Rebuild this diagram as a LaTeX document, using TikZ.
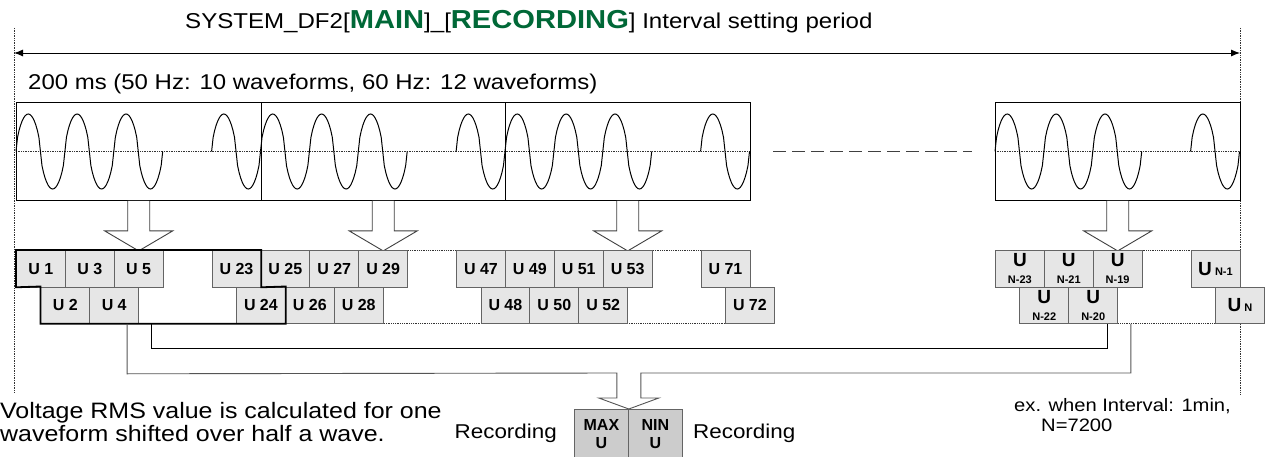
\documentclass[tikz,border=0pt]{standalone}
\usepackage{fontspec}
\setmainfont{Liberation Sans}
\setsansfont{Liberation Sans}
\newfontfamily\widefont{Liberation Sans}[FakeStretch=1.12]
\usetikzlibrary{arrows.meta,calc}

\definecolor{rmsTitleGreen}{RGB}{0,104,55}
\definecolor{rmsCell}{RGB}{230,230,230}
\definecolor{rmsCellBorder}{RGB}{100,100,100}
\definecolor{rmsResult}{RGB}{204,204,204}
\definecolor{rmsFeed}{RGB}{85,85,85}

\begin{document}
\begin{tikzpicture}[x=1pt,y=-1pt,
      declare function={hump(\t)=sign(sin(\t/48.9*360))
        *(abs(sin(\t/48.9*360))+0.0001)^0.6;},
      txt/.style={font=\widefont\fontsize{21.4}{24}\selectfont,
        inner sep=0pt, anchor=base west},
      wavebox/.style={draw=black, line width=.9pt, minimum width=244.5pt,
        minimum height=98pt, inner sep=0pt, anchor=north west},
      wave/.style={draw=black, line width=1pt},
      midline/.style={draw=black!80, line width=.7pt, densely dotted},
      blockarrow/.style={draw=black!75, fill=white, line width=.9pt},
      ucell/.style={draw=rmsCellBorder, fill=rmsCell, line width=.8pt,
        minimum width=48.9pt, minimum height=36.5pt, inner sep=0pt,
        anchor=north west, font=\fontsize{16}{18}\selectfont\bfseries},
      ncell/.style={ucell, align=center,
        font=\fontsize{19}{17}\selectfont\bfseries},
      result/.style={draw=rmsCellBorder, fill=rmsResult, line width=.8pt,
        minimum width=54pt, minimum height=50pt, inner sep=0pt,
        anchor=north west, align=center,
        font=\fontsize{16}{18}\selectfont\bfseries},
      groupedge/.style={draw=black, line width=1.8pt},
      groupdots/.style={draw=black!80, line width=.8pt, densely dotted},
      collect/.style={draw=black, line width=1pt},
      feed/.style={draw=rmsFeed, line width=.9pt}]
      \useasboundingbox (0,0) rectangle (1274,457);
      \fill[white] (0,0) rectangle (1274,457);

      \node[txt, font=\widefont\fontsize{21.5}{24}\selectfont] (title)
        at (185,28.5) {SYSTEM\_DF2[{\color{rmsTitleGreen}%
        \fontsize{26}{28}\selectfont\bfseries MAIN}]\_[{\color{rmsTitleGreen}%
        \fontsize{26}{28}\selectfont\bfseries RECORDING}] Interval setting period};
      \coordinate (ivL) at (14,53);
      \coordinate (ivR) at (1240,53);
      \draw[black!80, line width=.7pt, densely dotted] (14,28) -- (14,393)
        (1240,28) -- (1240,395);
      \draw[line width=.9pt, {Latex[length=9pt,width=7pt]}-{Latex[length=9pt,width=7pt]}]
        (ivL) -- (ivR);
      \node[txt] (period) at (28,90)
        {200 ms (50 Hz: 10 waveforms, 60 Hz: 12 waveforms)};

      \draw[midline] (16,151.5) -- (749.5,151.5) (995,151.5) -- (1239.5,151.5);
      \draw[black!75, line width=1.4pt, dash pattern=on 13pt off 6pt]
        (773,151.5) -- (972,151.5);
      \foreach \bx [count=\b] in {16,260.5,505,995}{
        \node[wavebox] (box\b) at (\bx,102) {};
        \draw[wave] plot[domain=0:146.7, samples=97]
          ({\bx+\x},{151.5-37.5*hump(\x)});
        \draw[wave] plot[domain=195.6:244.5, samples=33]
          ({\bx+\x},{151.5-37.5*hump(\x)});
        \draw[blockarrow] ($(box\b.south)+(-11,0)$) -- ++(0,30) -- ++(-23,0)
          -- ($(box\b.south)+(0,50)$) -- ($(box\b.south)+(34,30)$) -- ++(-23,0)
          -- ($(box\b.south)+(11,0)$);}

      \draw[groupdots] (260.5,250) -- (749.5,250) (285,323) -- (774,323)
        (995,250) -- (1239.5,250) (1019.45,323) -- (1264,323);
      \foreach \t/\cx/\r in {1/16/0, 3/64.9/0, 5/113.8/0, 23/211.6/0,
          25/260.5/0, 27/309.4/0, 29/358.3/0, 47/456.1/0, 49/505/0,
          51/553.9/0, 53/602.8/0, 71/700.6/0,
          2/40.45/1, 4/89.35/1, 24/236.05/1, 26/284.95/1, 28/333.85/1,
          48/480.55/1, 50/529.45/1, 52/578.35/1, 72/725.05/1}{
        \node[ucell] (u\t) at (\cx,{250+36.5*\r}) {U \t};}
      \foreach \n/\cx/\r in {23/995/0, 21/1043.9/0, 19/1092.8/0,
          22/1019.45/1, 20/1068.35/1}{
        \node[ncell] (uN\n) at (\cx,{250+36.5*\r})
          {U\\{\fontsize{11}{12}\selectfont N-\n}};}
      \node[ncell] (uN1) at (1190.6,250)
        {U\,{\fontsize{11}{12}\selectfont N-1}};
      \node[ncell] (uN) at (1215.05,286.5)
        {U\,{\fontsize{11}{12}\selectfont N}};
      \draw[groupedge] (u1.north west) -- (u23.north east) -- (u23.south east)
        -- (u24.north east) -- (u24.south east) -- (u2.south west)
        -- (u2.north west) -- (u1.south west) -- cycle;

      \node[result] (max) at (574,409) {MAX\\U};
      \node[result] (nin) at (628,409) {NIN\\U};
      \coordinate (tip) at (max.north east);
      \draw[collect] ([xshift=12pt]u4.south east) -- ++(0,25)
        -| ([xshift=-11pt]uN20.south east);
      \draw[feed] ([xshift=-12pt]u4.south east) -- ++(0,50)
        -- ($(tip)+(-12,-36)$) -- ($(tip)+(-12,-11)$) -- ($(tip)+(-30,-11)$)
        -- (tip) -- ($(tip)+(30,-11)$) -- ($(tip)+(12,-11)$)
        -- ($(tip)+(12,-36)$) -| ([xshift=12.75pt]uN20.south east);

      \node[txt, anchor=base east, font=\widefont\fontsize{20}{22}\selectfont]
        (recmax) at (557,438) {Recording};
      \node[txt, font=\widefont\fontsize{20}{22}\selectfont]
        (recnin) at (693,438) {Recording};
      \node[txt, align=left,
        font=\widefont\fontsize{22.3}{23}\selectfont] (note) at (0,441)
        {Voltage RMS value is calculated for one\\
         waveform shifted over half a wave.};
      \node[txt, align=left,
        font=\widefont\fontsize{18}{20}\selectfont] (example) at (1014,431)
        {ex. when Interval: 1min,\\\hspace*{27pt}N=7200};
    \end{tikzpicture}
\end{document}
